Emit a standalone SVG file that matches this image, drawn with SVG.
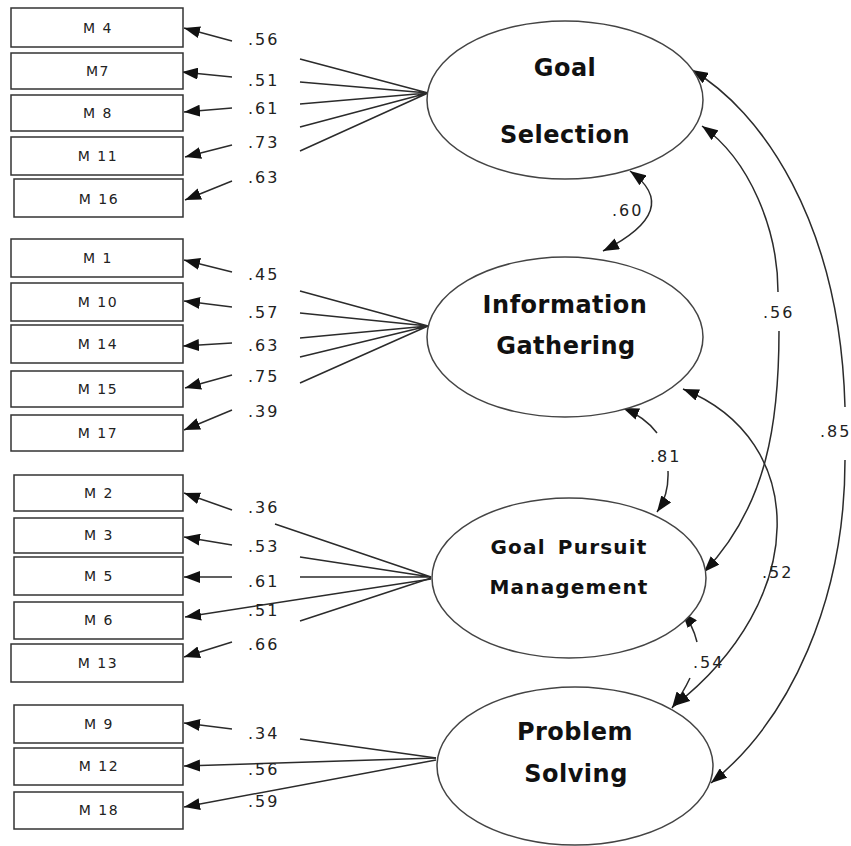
<svg xmlns="http://www.w3.org/2000/svg" width="851" height="846" viewBox="0 0 851 846">
<defs>
<marker id="ah" markerUnits="userSpaceOnUse" markerWidth="16" markerHeight="12" refX="16" refY="6" orient="auto-start-reverse" viewBox="0 0 16 12">
<path d="M0,0 L16,6 L0,12 z" fill="#111"/>
</marker>
<style>
.box{fill:#fff;stroke:#333;stroke-width:1.5}
.bt{font-family:"DejaVu Sans",Verdana,sans-serif;font-size:14px;letter-spacing:1.5px;fill:#222;text-anchor:middle}
.el{fill:#fff;stroke:#444;stroke-width:1.5}
.lt{font-family:"DejaVu Sans",Verdana,sans-serif;font-weight:bold;font-size:24px;letter-spacing:0.5px;fill:#111;text-anchor:middle}
.lt2{font-family:"DejaVu Sans",Verdana,sans-serif;font-weight:bold;font-size:20px;letter-spacing:1.2px;fill:#111;text-anchor:middle}
.num{font-family:"DejaVu Sans",Verdana,sans-serif;font-size:16px;letter-spacing:2px;fill:#222}
.ln{fill:none;stroke:#2b2b2b;stroke-width:1.5}
.ar{fill:none;stroke:#2b2b2b;stroke-width:1.5;marker-end:url(#ah)}
.cr{fill:none;stroke:#2b2b2b;stroke-width:1.5}
.both{marker-start:url(#ah);marker-end:url(#ah)}
.st{marker-start:url(#ah)}
.en{marker-end:url(#ah)}
</style>
</defs>
<rect width="851" height="846" fill="#fff"/>

<g id="connectors">
<path class="ar" d="M232,41 L184,28"/>
<path class="ar" d="M232,77 L182,72"/>
<path class="ar" d="M232,108 L184,112"/>
<path class="ar" d="M232,145 L185,157"/>
<path class="ar" d="M232,181 L185,200"/>
<path class="ln" d="M428,93 L300,59 M428,93 L300,82 M428,93 L300,104 M428,93 L300,127 M428,93 L300,151"/>
<path class="ar" d="M232,272 L184,260"/>
<path class="ar" d="M232,307 L184,301"/>
<path class="ar" d="M232,343 L183,346"/>
<path class="ar" d="M232,375 L185,388"/>
<path class="ar" d="M232,410 L184,430"/>
<path class="ln" d="M428,326 L300,291 M428,326 L300,313 M428,326 L300,338 M428,326 L300,357 M428,326 L300,383"/>
<path class="ar" d="M232,510 L184,493"/>
<path class="ar" d="M232,545 L184,537"/>
<path class="ar" d="M232,577 L184,577"/>
<path class="ar" d="M431,579 L185,617"/>
<path class="ar" d="M232,642 L184,657"/>
<path class="ln" d="M431,577 L275,524 M431,577 L300,557 M431,577 L300,577 M431,578 L300,621"/>
<path class="ar" d="M232,729 L184,723"/>
<path class="ar" d="M436,758 L184,766"/>
<path class="ar" d="M436,760 L184,807"/>
<path class="ln" d="M436,758 L300,739"/>
<path class="cr both" d="M630,171 Q684,210 603,251"/>
<path class="cr st" d="M623,408 Q645,417 657,433"/>
<path class="cr en" d="M668,471 Q669,495 657,512"/>
<path class="cr st" d="M682,612 Q693,625 697,642"/>
<path class="cr en" d="M690,678 Q683,693 672,708"/>
<path class="cr both" d="M683,389 C810,440 810,600 674,706"/>
<path class="cr st" d="M702,126 C750,160 778,230 778,292"/>
<path class="cr en" d="M779,331 C779,420 768,505 704,572"/>
<path class="cr st" d="M692,70 C760,110 840,220 845,407"/>
<path class="cr en" d="M845,460 C845,600 790,720 711,783"/>
</g>

<g id="labels">
<text class="num" x="248" y="45">.56</text>
<text class="num" x="248" y="86">.51</text>
<text class="num" x="248" y="114">.61</text>
<text class="num" x="248" y="148">.73</text>
<text class="num" x="248" y="183">.63</text>
<text class="num" x="248" y="280">.45</text>
<text class="num" x="248" y="318">.57</text>
<text class="num" x="248" y="351">.63</text>
<text class="num" x="248" y="382">.75</text>
<text class="num" x="248" y="417">.39</text>
<text class="num" x="248" y="513">.36</text>
<text class="num" x="248" y="552">.53</text>
<text class="num" x="248" y="587">.61</text>
<text class="num" x="248" y="616">.51</text>
<text class="num" x="248" y="650">.66</text>
<text class="num" x="248" y="739">.34</text>
<text class="num" x="248" y="775">.56</text>
<text class="num" x="248" y="807">.59</text>
<text class="num" x="612" y="216">.60</text>
<text class="num" x="763" y="318">.56</text>
<text class="num" x="820" y="437">.85</text>
<text class="num" x="650" y="462">.81</text>
<text class="num" x="762" y="578">.52</text>
<text class="num" x="693" y="668">.54</text>
</g>

<g id="M4"><rect class="box" x="11" y="8" width="172" height="39"/><text class="bt" x="98" y="33">M 4</text></g>
<g id="M7"><rect class="box" x="11" y="53" width="172" height="36"/><text class="bt" x="98" y="76">M7</text></g>
<g id="M8"><rect class="box" x="11" y="95" width="172" height="36"/><text class="bt" x="98" y="118">M 8</text></g>
<g id="M11"><rect class="box" x="11" y="137" width="172" height="38"/><text class="bt" x="98" y="161">M 11</text></g>
<g id="M16"><rect class="box" x="14" y="179" width="169" height="38"/><text class="bt" x="99" y="204">M 16</text></g>
<g id="M1"><rect class="box" x="11" y="239" width="172" height="38"/><text class="bt" x="98" y="263">M 1</text></g>
<g id="M10"><rect class="box" x="11" y="283" width="172" height="38"/><text class="bt" x="98" y="307">M 10</text></g>
<g id="M14"><rect class="box" x="11" y="325" width="172" height="38"/><text class="bt" x="98" y="349">M 14</text></g>
<g id="M15"><rect class="box" x="11" y="371" width="172" height="36"/><text class="bt" x="98" y="394">M 15</text></g>
<g id="M17"><rect class="box" x="11" y="415" width="172" height="36"/><text class="bt" x="98" y="438">M 17</text></g>
<g id="M2"><rect class="box" x="14" y="475" width="169" height="36"/><text class="bt" x="99" y="498">M 2</text></g>
<g id="M3"><rect class="box" x="14" y="518" width="169" height="35"/><text class="bt" x="99" y="540">M 3</text></g>
<g id="M5"><rect class="box" x="14" y="557" width="169" height="38"/><text class="bt" x="99" y="581">M 5</text></g>
<g id="M6"><rect class="box" x="14" y="602" width="169" height="37"/><text class="bt" x="99" y="625">M 6</text></g>
<g id="M13"><rect class="box" x="11" y="644" width="172" height="38"/><text class="bt" x="98" y="668">M 13</text></g>
<g id="M9"><rect class="box" x="14" y="705" width="169" height="38"/><text class="bt" x="99" y="729">M 9</text></g>
<g id="M12"><rect class="box" x="14" y="748" width="169" height="37"/><text class="bt" x="99" y="771">M 12</text></g>
<g id="M18"><rect class="box" x="14" y="792" width="169" height="37"/><text class="bt" x="99" y="815">M 18</text></g>

<g id="GoalSelection"><ellipse class="el" cx="565" cy="100" rx="138" ry="79"/><text class="lt" x="565" y="76">Goal</text><text class="lt" x="565" y="143">Selection</text></g>
<g id="InformationGathering"><ellipse class="el" cx="565" cy="337" rx="138" ry="80"/><text class="lt" x="565" y="313">Information</text><text class="lt" x="566" y="354">Gathering</text></g>
<g id="GoalPursuitManagement"><ellipse class="el" cx="569" cy="578" rx="137" ry="80"/><text class="lt2" x="569" y="554" style="word-spacing:4px">Goal Pursuit</text><text class="lt2" x="569" y="594">Management</text></g>
<g id="ProblemSolving"><ellipse class="el" cx="575" cy="766" rx="138" ry="79"/><text class="lt" x="575" y="740">Problem</text><text class="lt" x="576" y="782">Solving</text></g>
</svg>
